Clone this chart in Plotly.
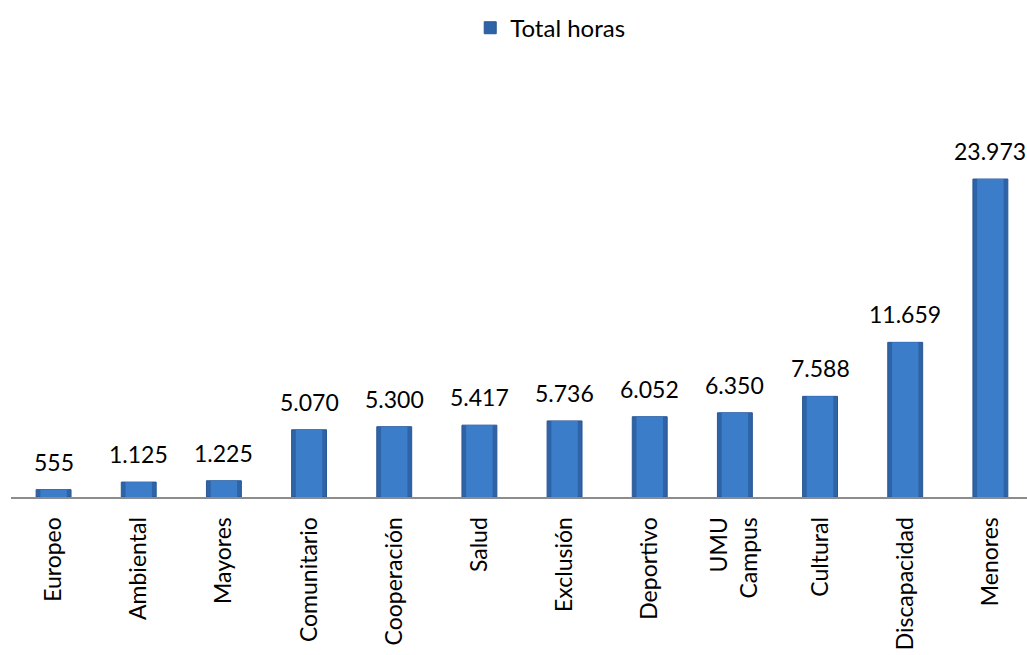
import plotly.graph_objects as go

categorias = ['Europeo', 'Ambiental', 'Mayores', 'Comunitario', 'Cooperación', 'Salud',
              'Exclusión', 'Deportivo', 'UMU<br>Campus', 'Cultural', 'Discapacidad', 'Menores']
total_horas = [555, 1125, 1225, 5070, 5300, 5417, 5736, 6052, 6350, 7588, 11659, 23973]

fuente = 'Lato, Open Sans, sans-serif'

fig = go.Figure()

# barra exterior (borde oscuro) + barra interior más clara para imitar el bisel
fig.add_trace(go.Bar(
    x=categorias,
    y=total_horas,
    name='Total horas',
    width=0.41,
    marker=dict(color='#2f63a8', line=dict(color='#2a5794', width=1)),
    hoverinfo='x+y',
))
fig.add_trace(go.Bar(
    x=categorias,
    y=total_horas,
    name='Total horas',
    width=0.31,
    marker=dict(color='#3c7dc9', line=dict(width=0)),
    showlegend=False,
    hoverinfo='skip',
))

# etiquetas de valor con formato español (punto como separador de miles)
for cat, val in zip(categorias, total_horas):
    fig.add_annotation(
        x=cat, y=val,
        text=f'{val:,}'.replace(',', '.'),
        showarrow=False,
        yanchor='bottom',
        yshift=12,
        font=dict(family=fuente, size=23, color='black'),
    )

fig.update_layout(
    width=1027,
    height=655,
    barmode='overlay',
    plot_bgcolor='white',
    paper_bgcolor='white',
    margin=dict(l=11, r=0, t=100, b=158, autoexpand=False),
    showlegend=True,
    legend=dict(
        orientation='h',
        x=0.452, xanchor='left',
        y=1.181, yanchor='middle',
        font=dict(family=fuente, size=24, color='black'),
    ),
    xaxis=dict(
        range=[-0.5, 11.43],
        showline=True,
        linecolor='#8c8c8c',
        linewidth=2,
        tickangle=-90,
        ticks='',
        ticklabelstandoff=9,
        tickfont=dict(family=fuente, size=23, color='black'),
        showgrid=False,
        automargin=False,
    ),
    yaxis=dict(
        range=[0, 29930],
        visible=False,
        showgrid=False,
    ),
)

# sin el margen por defecto del body la figura cabe justa en la ventana
fig.write_html('out.html', config={'displayModeBar': False},
               post_script="document.body.style.margin='0';")
